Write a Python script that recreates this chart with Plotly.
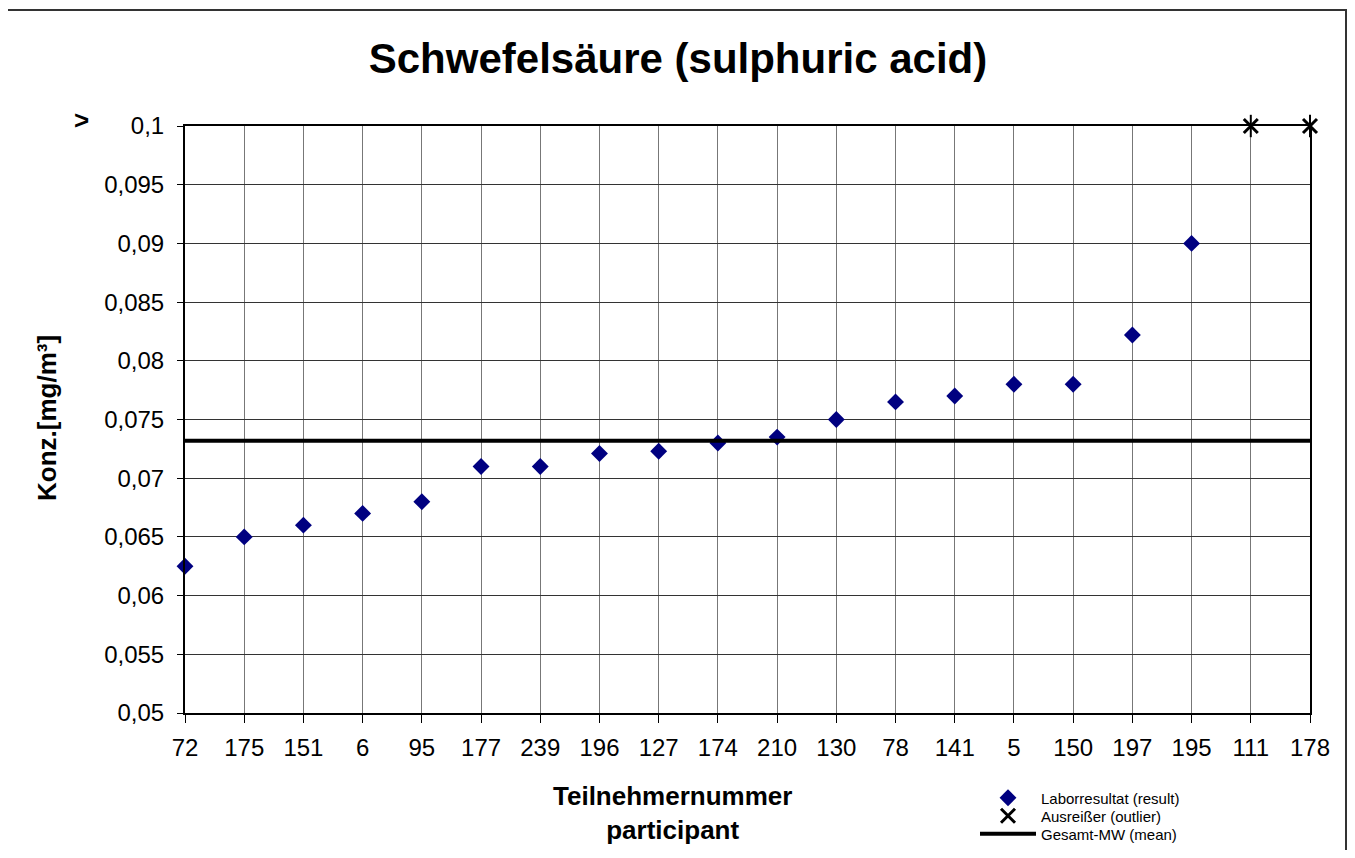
import plotly.graph_objects as go

participants = ["72", "175", "151", "6", "95", "177", "239", "196", "127", "174",
                "210", "130", "78", "141", "5", "150", "197", "195", "111", "178"]
result_ids = participants[:18]
result_vals = [0.0625, 0.065, 0.066, 0.067, 0.068, 0.071, 0.071, 0.0721, 0.0723, 0.073,
               0.0735, 0.075, 0.0765, 0.077, 0.078, 0.078, 0.0822, 0.090]
outlier_ids = ["111", "178"]
outlier_vals = [0.1, 0.1]
mean_val = 0.0732
y_ticks = [0.05, 0.055, 0.06, 0.065, 0.07, 0.075, 0.08, 0.085, 0.09, 0.095, 0.1]
y_ticktext = ["0,05", "0,055", "0,06", "0,065", "0,07", "0,075", "0,08", "0,085", "0,09", "0,095", "0,1"]

# page body has an 8px margin; the figure is sized so that it fits the window
OFF = 8
W, H = 1355 - 2 * OFF, 858 - 2 * OFF
# plot area in page pixels
L, R, T, B = 185, 1310, 126, 713


def px(x):
    return (x - L) / (R - L)


def py(y):
    return (B - y) / (B - T)


FONT = "Liberation Sans, Arial, sans-serif"

fig = go.Figure()
fig.add_trace(go.Scatter(
    x=result_ids, y=result_vals, mode="markers", name="Laborresultat (result)", legend="legend",
    marker=dict(symbol="diamond", size=13, color="#000080"), cliponaxis=False))
fig.add_trace(go.Scatter(
    x=outlier_ids, y=outlier_vals, mode="markers", name="Ausreißer (outlier)", legend="legend2",
    marker=dict(symbol="x-thin-open", size=14, color="black", line=dict(width=3, color="black")),
    cliponaxis=False))
fig.add_trace(go.Scatter(
    x=outlier_ids, y=outlier_vals, mode="markers", showlegend=False, hoverinfo="skip",
    marker=dict(symbol="line-ns-open", size=16, color="black", line=dict(width=2, color="black")),
    cliponaxis=False))
fig.add_trace(go.Scatter(
    x=[participants[0], participants[-1]], y=[mean_val, mean_val], mode="lines", legend="legend3",
    name="Gesamt-MW (mean)", line=dict(color="black", width=4)))

leg_common = dict(x=px(975), xanchor="left", yanchor="middle",
                  font=dict(size=15, family=FONT), bgcolor="rgba(0,0,0,0)",
                  tracegroupgap=0, itemwidth=56, borderwidth=0)

fig.update_layout(
    width=W, height=H,
    margin=dict(l=L - OFF, r=W - (R - OFF), t=T - OFF, b=H - (B - OFF), pad=0, autoexpand=False),
    paper_bgcolor="white", plot_bgcolor="white",
    font=dict(family=FONT, size=24, color="black"),
    separators=",.",
    title=dict(text="<b>Schwefelsäure (sulphuric acid)</b>", x=(678 - OFF) / W, xanchor="center",
               y=1 - (58 - OFF) / H, yanchor="middle", font=dict(size=42, family=FONT)),
    showlegend=True,
    legend=dict(y=py(798), **leg_common),
    legend2=dict(y=py(816), **leg_common),
    legend3=dict(y=py(834), **leg_common),
    xaxis=dict(type="category", categoryorder="array", categoryarray=participants,
               range=[0, len(participants) - 1],
               showgrid=True, gridcolor="#777777", gridwidth=1,
               showline=True, linecolor="black", linewidth=2, mirror=True,
               ticks="outside", ticklen=8, tickcolor="black", tickwidth=1,
               tickfont=dict(size=24), ticklabelstandoff=4, zeroline=False),
    yaxis=dict(range=[0.05, 0.1], tickvals=y_ticks, ticktext=y_ticktext,
               showgrid=True, gridcolor="#333333", gridwidth=1,
               showline=True, linecolor="black", linewidth=2, mirror=True,
               ticks="outside", ticklen=6, tickcolor="black", tickwidth=1,
               tickfont=dict(size=24), ticklabelstandoff=8, zeroline=False),
)

fig.add_annotation(xref="paper", yref="paper", x=px(47), y=py(418), text="<b>Konz.[mg/m³]</b>",
                   textangle=-90, showarrow=False, font=dict(size=26, family=FONT),
                   xanchor="center", yanchor="middle")
fig.add_annotation(xref="paper", yref="paper", x=px(672), y=py(813), text="<b>Teilnehmernummer<br>participant</b>",
                   showarrow=False, font=dict(size=26, family=FONT), xanchor="center", yanchor="middle")
fig.add_annotation(xref="paper", yref="paper", x=px(81), y=py(120), text="<b>&gt;</b>", textangle=0,
                   showarrow=False, font=dict(size=26, family=FONT), xanchor="center", yanchor="middle")
fig.add_shape(type="rect", xref="paper", yref="paper", x0=px(6), x1=px(1346), y0=py(900), y1=py(10),
              line=dict(color="#333333", width=2), fillcolor="rgba(0,0,0,0)", layer="below")

fig.write_html("out.html")
